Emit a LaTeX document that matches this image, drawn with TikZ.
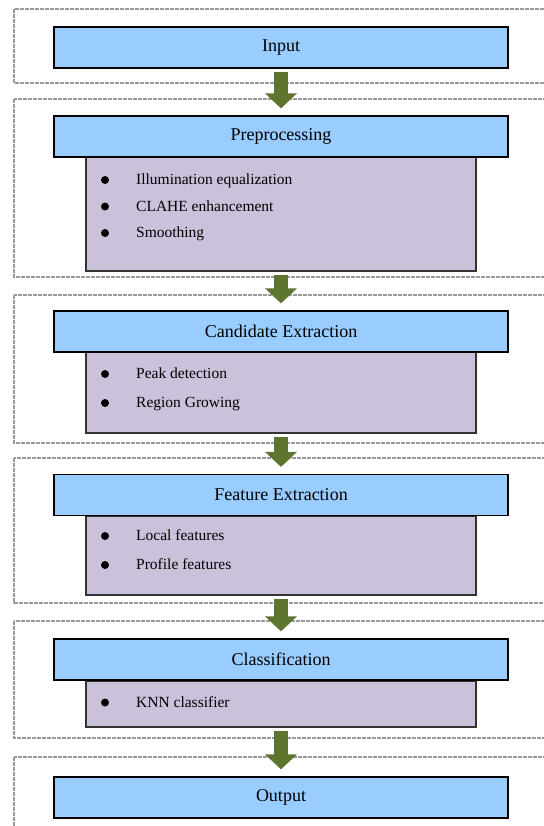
\documentclass[tikz,border=0pt]{standalone}
\usepackage{fontspec}
\setmainfont{Liberation Serif}
\usetikzlibrary{arrows.meta}

\definecolor{stageblue}{HTML}{99CCFF}
\definecolor{listlilac}{HTML}{CCC1DA}
\definecolor{arrowolive}{HTML}{5E7530}
\definecolor{framegray}{HTML}{999999}

\tikzset{
  stage/.style={rectangle,draw=black,line width=1.2pt,fill=stageblue,minimum width=454pt,minimum height=41pt,font=\fontsize{18}{21}\selectfont},
  detail/.style={rectangle,draw=black!80,line width=1.2pt,fill=listlilac,minimum width=390pt},
  entry/.style={anchor=west,inner sep=0pt,yshift=-2.5pt,text height=0.7em,text depth=0.25em,font=\fontsize{15.5}{18}\selectfont},
  frame/.style={draw=framegray,line width=1.8pt,dash pattern=on 4pt off 1pt},
  flow/.style={draw=arrowolive,line width=14pt,-{Triangle[width=31pt,length=15pt]},shorten <=3pt,shorten >=7pt}
}

\begin{document}
\begin{tikzpicture}[x=1pt,y=-1pt]
\useasboundingbox (0,0) rectangle (543,826);

% dashed frames round each step
\draw[frame] (14,9) rectangle (560,83);
\draw[frame] (14,99) rectangle (560,277);
\draw[frame] (14,295) rectangle (560,443);
\draw[frame] (14,458) rectangle (560,603);
\draw[frame] (14,621) rectangle (560,738);
\draw[frame] (14,757) rectangle (560,850);

% lists under the titles
\node[detail,minimum height=114pt] (prepList) at (281,214) {};
\node[detail,minimum height=81pt] (candList) at (281,392.5) {};
\node[detail,minimum height=79pt] (featList) at (281,555.5) {};
\node[detail,minimum height=46pt] (clfList) at (281,704) {};

% titles
\node[stage] (input) at (281,47.5) {Input};
\node[stage] (prep) at (281,136.5) {Preprocessing};
\node[stage] (cand) at (281,331.5) {Candidate Extraction};
\node[stage] (feat) at (281,495) {Feature Extraction};
\node[stage] (clf) at (281,659.5) {Classification};
\node[stage] (output) at (281,797.5) {Output};

% list entries
\node[entry] (prepA) at (136,180) {Illumination equalization};
\node[entry] (prepB) at (136,206.5) {CLAHE enhancement};
\node[entry] (prepC) at (136,233) {Smoothing};
\node[entry] (candA) at (136,374) {Peak detection};
\node[entry] (candB) at (136,403) {Region Growing};
\node[entry] (featA) at (136,536) {Local features};
\node[entry] (featB) at (136,565) {Profile features};
\node[entry] (clfA) at (136,702.5) {KNN classifier};

\foreach \y in {180,206.5,233,374,403,536,565,702.5}
  \fill (105,\y) circle[radius=4pt];

% flow between the steps
\path[flow] (input.south) -- (prep.north);
\path[flow] (prepList.south) -- (cand.north);
\path[flow] (candList.south) -- (feat.north);
\path[flow] (featList.south) -- (clf.north);
\path[flow] (clfList.south) -- (output.north);
\end{tikzpicture}
\end{document}
